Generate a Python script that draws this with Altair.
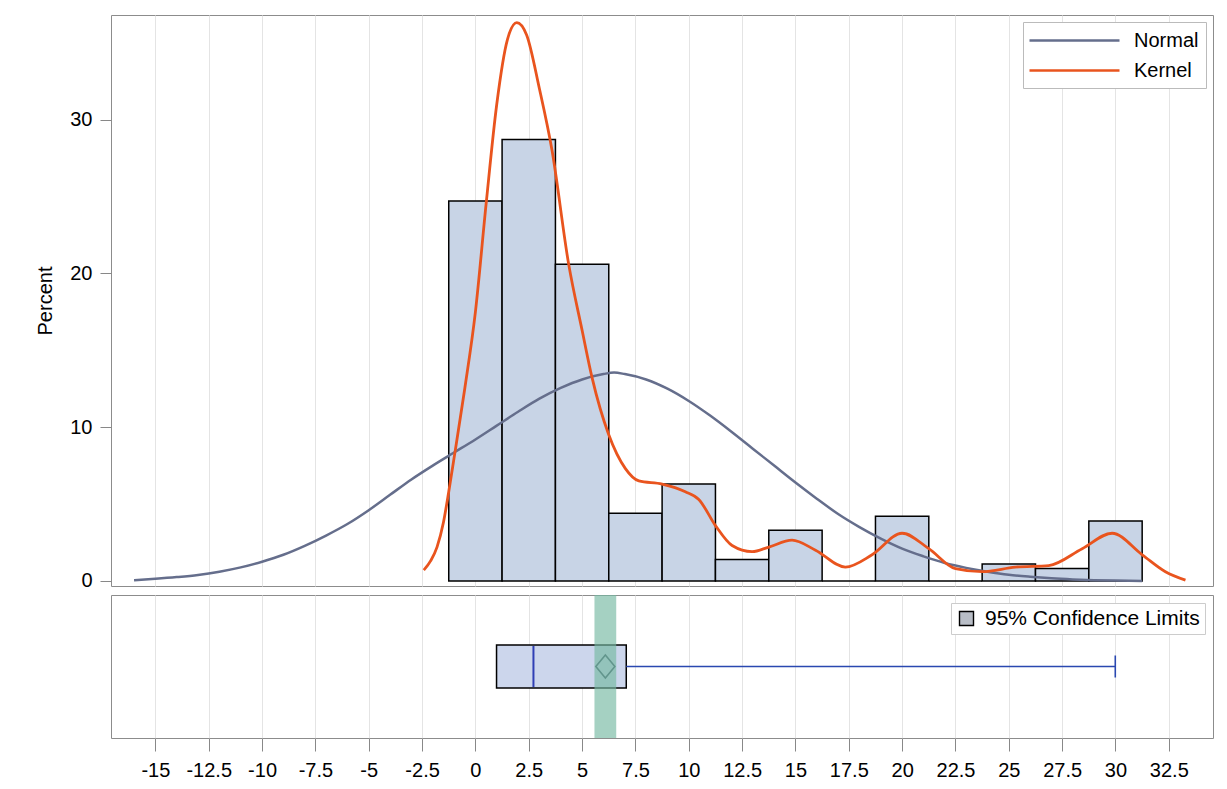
import altair as alt
import pandas as pd

FONT = "Liberation Sans"

# ---------------- data ----------------
bin_mids = [0, 2.5, 5, 7.5, 10, 12.5, 15, 17.5, 20, 22.5, 25, 27.5, 30]
bin_pct = [24.7, 28.7, 20.6, 4.4, 6.3, 1.4, 3.3, 0.0, 4.2, 0.0, 1.1, 0.8, 3.9]
bin_width = 2.5

normal_x = [-16, -15, -14, -13, -12, -11, -10, -9, -8, -7, -6, -5, -4, -3, -2, -1,
            0, 1, 2, 3, 4, 5, 6, 7, 8, 9, 10, 11, 12, 13, 14, 15, 16, 17, 18, 19,
            20, 21, 22, 23, 24, 25, 26, 27, 28, 29, 30, 31.25]
normal_pct = [0.05, 0.14, 0.25, 0.39, 0.6, 0.88, 1.25, 1.7, 2.28, 2.95, 3.7, 4.6, 5.6, 6.6, 7.5, 8.35,
              9.2, 10.1, 11.0, 11.85, 12.55, 13.1, 13.45, 13.45, 13.1, 12.5, 11.7, 10.75, 9.7, 8.6,
              7.5, 6.4, 5.35, 4.35, 3.5, 2.75,
              2.1, 1.6, 1.17, 0.85, 0.6, 0.4, 0.27, 0.17, 0.1, 0.05, 0.02, 0.0]
normal_x.insert(23, 6.5)
normal_pct.insert(23, 13.55)

kernel_x = [-2.42, -2.1, -1.8, -1.5, -1.25, -1.0, -0.5, 0.0, 0.5, 1.0, 1.5, 1.94, 2.4,
            3.0, 3.59, 4.37, 5.0, 5.47, 6.25, 7.03, 7.66, 8.75, 9.84, 10.47, 11.25, 12.03,
            12.97, 13.75, 14.84, 15.94, 17.34, 18.59, 20.0, 21.25, 22.5, 23.75, 25.3,
            26.87, 28.44, 29.84, 31.25, 32.34, 33.28]
kernel_pct = [0.7, 1.3, 2.2, 3.8, 5.8, 8.0, 12.5, 17.5, 24.5, 31.0, 35.2, 36.3, 35.5,
              32.0, 28.0, 20.6, 16.3, 13.2, 9.5, 7.3, 6.5, 6.3, 5.8, 5.3, 3.6, 2.3,
              1.9, 2.2, 2.65, 2.0, 0.9, 1.7, 3.1, 2.1, 0.8, 0.6, 0.9,
              1.0, 2.1, 3.1, 1.7, 0.6, 0.05]

box_q1 = 0.99
box_median = 2.72
box_q3 = 7.07
box_mean = 6.09
whisker_max = 29.99
ci_low = 5.58
ci_high = 6.60

x_tick_values = [-15, -12.5, -10, -7.5, -5, -2.5, 0, 2.5, 5, 7.5, 10, 12.5, 15, 17.5,
                 20, 22.5, 25, 27.5, 30, 32.5]
y_tick_values = [0, 10, 20, 30]
x_domain = [-17.08, 34.57]
y_domain = [-0.33, 36.8]

series_names = ["Normal", "Kernel"]
ci_label = "95% Confidence Limits"

# ---------------- tables ----------------
hist_df = pd.DataFrame({"mid": bin_mids, "pct": bin_pct})
hist_df["lo"] = hist_df["mid"] - bin_width / 2
hist_df["hi"] = hist_df["mid"] + bin_width / 2
hist_df["base"] = 0.0

normal_df = pd.DataFrame({"x": normal_x, "pct": normal_pct, "series": series_names[0]})
kernel_df = pd.DataFrame({"x": kernel_x, "pct": kernel_pct, "series": series_names[1]})

box_df = pd.DataFrame({"q1": [box_q1], "q3": [box_q3], "median": [box_median],
                       "mean": [box_mean], "wmax": [whisker_max],
                       "cilo": [ci_low], "cihi": [ci_high]})
legend_df = pd.DataFrame({"x": [x_domain[1] + 10], "lab": [ci_label]})

# ---------------- scales / axes ----------------
W = 1102
H_TOP = 571
H_BOT = 143

xs = alt.Scale(domain=x_domain, nice=False, zero=False)
ys = alt.Scale(domain=y_domain, nice=False, zero=False)
cscale = alt.Scale(domain=series_names, range=["#656E8C", "#E9541E"])

grid_axis = alt.Axis(values=x_tick_values, labels=False, ticks=False, domain=False,
                     grid=True, gridColor="#E4E4E4", title=None, minExtent=0,
                     maxExtent=0, labelPadding=0, tickSize=0)
y_axis = alt.Axis(values=y_tick_values, title="Percent", grid=False, domain=False,
                  tickSize=11, tickColor="#888888", labelPadding=8, titlePadding=14,
                  labelFontSize=20, titleFontSize=20, titleFontWeight="normal")
bottom_axis = alt.Axis(values=x_tick_values, grid=True, gridColor="#E4E4E4",
                       labelExpr="replace(format(datum.value, '.1~f'), '\u2212', '-')",
                       domain=False, tickSize=13, tickColor="#888888", labelPadding=9,
                       labelFontSize=20, title=None, labelFlush=False)

line_legend = alt.Legend(title=None, orient="top-right", offset=7,
                         symbolType="M-4.5,0L4.5,0", symbolSize=400,
                         symbolStrokeWidth=2.6, symbolOffset=33, labelOffset=48,
                         labelFontSize=20, labelLimit=400,
                         strokeColor="#BBBBBB", fillColor="white", padding=7,
                         rowPadding=8)

# ---------------- top panel ----------------
bars = alt.Chart(hist_df).mark_rect(fill="#C8D4E6", stroke="black", strokeWidth=1.5).encode(
    x=alt.X("lo:Q", scale=xs, axis=grid_axis),
    x2="hi:Q",
    y=alt.Y("pct:Q", scale=ys, axis=y_axis),
    y2="base:Q",
)

normal_line = alt.Chart(normal_df).mark_line(strokeWidth=2.5, interpolate="monotone").encode(
    x=alt.X("x:Q", scale=xs),
    y=alt.Y("pct:Q", scale=ys),
    color=alt.Color("series:N", scale=cscale, legend=line_legend),
)
kernel_line = alt.Chart(kernel_df).mark_line(strokeWidth=2.8, interpolate="monotone").encode(
    x=alt.X("x:Q", scale=xs),
    y=alt.Y("pct:Q", scale=ys),
    color=alt.Color("series:N", scale=cscale, legend=line_legend),
)

top = alt.layer(bars, normal_line, kernel_line).properties(width=W, height=H_TOP)

# ---------------- bottom panel ----------------
BOX_T, BOX_B, MID = 50, 93, 71.5

box = alt.Chart(box_df).mark_rect(fill="#CCD6EC", stroke="black", strokeWidth=1.5).encode(
    x=alt.X("q1:Q", scale=xs, axis=bottom_axis), x2="q3:Q",
    y=alt.value(BOX_T), y2=alt.value(BOX_B))
median_rule = alt.Chart(box_df).mark_rule(color="#2F3FB5", strokeWidth=2).encode(
    x=alt.X("median:Q", scale=xs), y=alt.value(BOX_T + 1), y2=alt.value(BOX_B - 1))
whisker = alt.Chart(box_df).mark_rule(color="#2A48B0", strokeWidth=1.6).encode(
    x=alt.X("q3:Q", scale=xs), x2="wmax:Q", y=alt.value(MID))
cap = alt.Chart(box_df).mark_rule(color="#2A48B0", strokeWidth=1.6).encode(
    x=alt.X("wmax:Q", scale=xs), y=alt.value(MID - 11), y2=alt.value(MID + 11))
mean_pt = alt.Chart(box_df).mark_point(shape="M0,-1.2L1,0L0,1.2L-1,0Z", size=361,
                                       filled=False, stroke="#3E5566", strokeWidth=1.6,
                                       opacity=1).encode(
    x=alt.X("mean:Q", scale=xs), y=alt.value(MID))
ci_band = alt.Chart(box_df).mark_rect(fill="#74B8A2", opacity=0.65).encode(
    x=alt.X("cilo:Q", scale=xs), x2="cihi:Q", y=alt.value(0), y2=alt.value(H_BOT))
ci_legend = alt.Chart(legend_df).mark_square(clip=True, size=196, stroke="black",
                                             strokeWidth=1.4, opacity=1).encode(
    x=alt.X("x:Q", scale=xs),
    y=alt.value(MID),
    fill=alt.Fill("lab:N", scale=alt.Scale(domain=[ci_label], range=["#B8BDC6"]),
                  legend=alt.Legend(title=None, orient="top-right", offset=8,
                                    symbolType="square", symbolSize=196,
                                    symbolStrokeColor="black", symbolStrokeWidth=1.4,
                                    labelFontSize=21, labelLimit=400,
                                    strokeColor="#CCCCCC",
                                    fillColor="white", padding=5, labelOffset=8)),
)

bottom = alt.layer(box, median_rule, whisker, cap, mean_pt, ci_band, ci_legend).properties(
    width=W, height=H_BOT)

chart = alt.vconcat(top, bottom, spacing=2).properties(
    padding={"left": 27, "top": 6, "right": 5, "bottom": 5}
).configure_view(
    stroke="#8C8C8C", strokeWidth=1
).configure_axis(
    labelFont=FONT, titleFont=FONT, labelColor="black", titleColor="black"
).configure_legend(
    labelFont=FONT, labelColor="black"
).resolve_scale(color="independent", fill="independent")

chart.save("out.html", embed_options={"renderer": "svg", "actions": False})
